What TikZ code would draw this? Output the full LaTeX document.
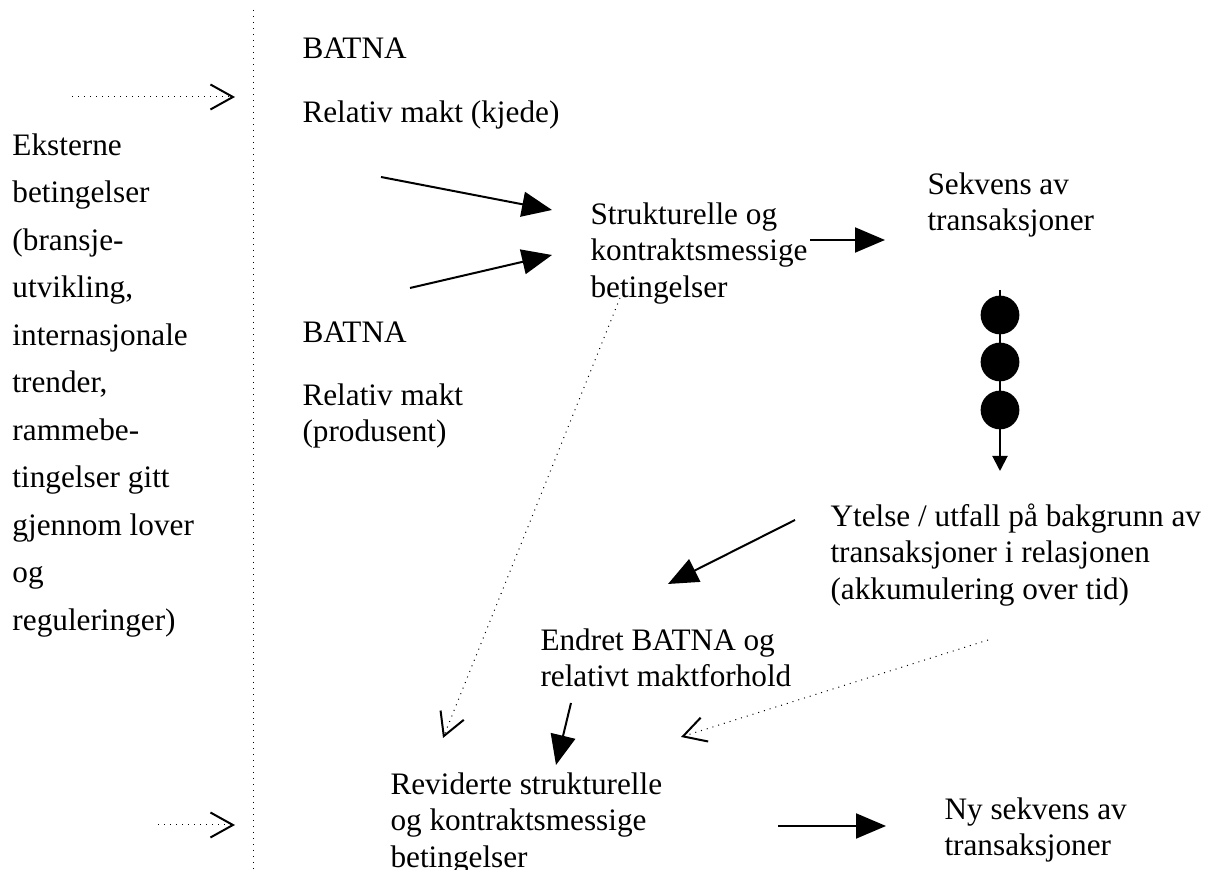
\documentclass[tikz,border=0pt]{standalone}
\usepackage{fontspec}
\setmainfont{Liberation Serif}
\usetikzlibrary{arrows.meta}
\tikzset{
  labeltext/.style={anchor=north west, inner sep=0pt, align=left, font=\fontsize{12.5}{14.6}\selectfont},
  solidarrow/.style={line width=0.8pt, -{Triangle[length=12pt,width=10pt]}},
  dotarrow/.style={line width=0.4pt, dotted, -{Straight Barb[length=9pt,width=10pt,line width=0.8pt]}},
  seqdot/.style={circle, fill=black, minimum size=15.5pt, inner sep=0pt},
}
\begin{document}
\begin{tikzpicture}[x=0.4pt, y=-0.4pt]
% canvas in pixel units of the original
\useasboundingbox (0,0) rectangle (1209,870);
% Divider
\coordinate (divtop) at (253,10);
\coordinate (divbot) at (253,870);
\draw[line width=0.4pt, dotted] (divtop) -- (divbot);
% External conditions
\node[labeltext, font=\fontsize{12.5}{19}\selectfont] (ext) at (12,133)
  {Eksterne\\betingelser\\(bransje-\\utvikling,\\internasjonale\\trender,\\rammebe-\\tingelser gitt\\gjennom lover\\og\\reguleringer)};
\coordinate (extA) at (72,97);
\coordinate (extAend) at (235,97);
\coordinate (extB) at (158,825);
\coordinate (extBend) at (235,825);
\draw[dotarrow] (extA) -- (extAend);
\draw[dotarrow] (extB) -- (extBend);
% Chain side and producer side
\node[labeltext] (batnaK) at (302,37) {BATNA};
\node[labeltext] (maktK) at (302,100) {Relativ makt (kjede)};
\node[labeltext] (batnaP) at (302,321) {BATNA};
\node[labeltext] (maktP) at (302,383) {Relativ makt\\(produsent)};
% Conditions and transactions
\node[labeltext] (struct) at (590,202) {Strukturelle og\\kontraktsmessige\\betingelser};
\node[labeltext] (seq) at (927,172) {Sekvens av\\transaksjoner};
\node[labeltext] (perf) at (830,503) {Ytelse / utfall på bakgrunn av\\transaksjoner i relasjonen\\(akkumulering over tid)};
\node[labeltext] (newbatna) at (540,628) {Endret BATNA og\\relativt maktforhold};
\node[labeltext] (revised) at (390,772) {Reviderte strukturelle\\og kontraktsmessige\\betingelser};
\node[labeltext] (newseq) at (944,797) {Ny sekvens av\\transaksjoner};
% Solid connectors
\coordinate (kIn) at (381,177);
\coordinate (kOut) at (552,210);
\coordinate (pIn) at (410,288);
\coordinate (pOut) at (552,255);
\draw[solidarrow] (kIn) -- (kOut);
\draw[solidarrow] (pIn) -- (pOut);
\coordinate (sIn) at (810,240);
\coordinate (sOut) at (885,240);
\draw[solidarrow] (sIn) -- (sOut);
\coordinate (tTop) at (1000,290);
\coordinate (tBot) at (1000,471);
\draw[line width=0.8pt, -{Triangle[length=6pt,width=6pt]}] (tTop) -- (tBot);
\foreach \i/\y in {1/315, 2/362, 3/410}
  \node[seqdot] (t\i) at (1000,\y) {};
\coordinate (yIn) at (795,520);
\coordinate (yOut) at (668,584);
\draw[solidarrow] (yIn) -- (yOut);
\coordinate (eIn) at (571,703);
\coordinate (eOut) at (556,765);
\draw[solidarrow] (eIn) -- (eOut);
\coordinate (rIn) at (778,826);
\coordinate (rOut) at (886,826);
\draw[solidarrow] (rIn) -- (rOut);
% Dotted feedback
\coordinate (fbA) at (620,298);
\coordinate (fbAend) at (443,738);
\draw[dotarrow] (fbA) -- (fbAend);
\coordinate (fbB) at (988,640);
\coordinate (fbBend) at (681,737);
\draw[dotarrow] (fbB) -- (fbBend);
\end{tikzpicture}
\end{document}
